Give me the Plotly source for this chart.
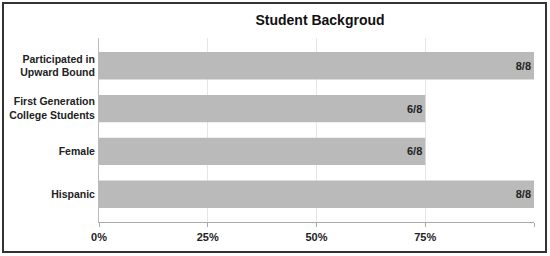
import plotly.graph_objects as go

categories = ["Hispanic", "Female", "First Generation<br>College Students", "Participated in<br>Upward Bound"]
values = [100, 75, 75, 100]
bar_labels = ["8/8", "6/8", "6/8", "8/8"]
tick_vals = [0, 25, 50, 75, 100]
tick_text = ["0%", "25%", "50%", "75%", ""]

W, H = 550, 256
L, R, T, B = 99, 16, 38, 34
pw, ph = W - L - R, H - T - B

FONT = "Arial, Liberation Sans, sans-serif"

fig = go.Figure(go.Bar(
    y=categories, x=values, orientation="h",
    marker=dict(color="#bababa", line=dict(width=0)),
    width=0.64,
    text=bar_labels, textposition="inside", insidetextanchor="end",
    textfont=dict(family=FONT, size=11, color="#222222", weight="bold"),
    cliponaxis=False,
))

def px(x):
    return (x - L) / pw

def py(y):
    return 1 - (y - T) / ph

fig.update_layout(
    width=W, height=H,
    margin=dict(l=L, r=R, t=T, b=B, autoexpand=False),
    paper_bgcolor="white", plot_bgcolor="white",
    showlegend=False,
    title=dict(text="Student Backgroud", x=px(320), xanchor="center", xref="paper",
               y=1 - 20 / H, yanchor="middle",
               font=dict(family=FONT, size=14, color="#111111", weight="bold")),
    xaxis=dict(range=[0, 100], tickvals=tick_vals, ticktext=tick_text,
               showgrid=True, gridcolor="#e6e6e6", gridwidth=1,
               showline=True, linecolor="#aaaaaa", linewidth=1,
               ticks="outside", ticklen=4, tickcolor="#aaaaaa",
               zeroline=False, fixedrange=True, automargin=False,
               ticklabelstandoff=1,
               tickfont=dict(family=FONT, size=11, color="#222222", weight="bold")),
    yaxis=dict(range=[-0.65, 3.65], showgrid=False, zeroline=False,
               showline=True, linecolor="#bbbbbb", linewidth=1,
               ticks="", ticklabelstandoff=1, automargin=False, fixedrange=True,
               tickfont=dict(family=FONT, size=10.5, color="#222222", weight="bold")),
    shapes=[dict(type="rect", xref="paper", yref="paper",
                 x0=px(3), x1=px(546), y0=py(3), y1=py(252),
                 line=dict(color="#333333", width=2), layer="above")],
    font=dict(family=FONT),
)

fig.write_html("out.html", config={"displayModeBar": False},
               post_script="document.body.style.margin='0';document.body.style.overflow='hidden';")
